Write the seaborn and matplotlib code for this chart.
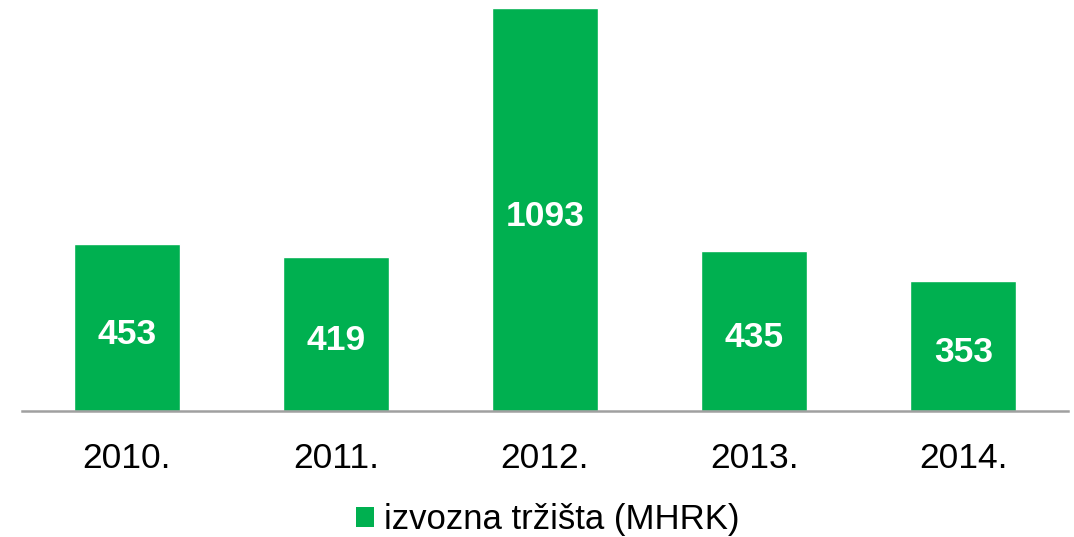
import matplotlib
matplotlib.use("Agg")
import matplotlib.pyplot as plt
from matplotlib.patches import Patch
import seaborn as sns
import pandas as pd

# data
years = ["2010.", "2011.", "2012.", "2013.", "2014."]
values = [453, 419, 1093, 435, 353]
series_name = "izvozna tržišta (MHRK)"

green = "#00B050"

sns.set_style("white")
plt.rcParams["font.family"] = ["Liberation Sans", "DejaVu Sans"]
plt.rcParams["text.color"] = "black"

df = pd.DataFrame({"year": years, "value": values})

fig = plt.figure(figsize=(10.74, 5.37), dpi=100)
ax = fig.add_axes([22 / 1074, 1 - 411 / 537, 1046 / 1074, 411 / 537])

sns.barplot(data=df, x="year", y="value", color=green, saturation=1,
            width=0.507, ax=ax)

ax.set_ylim(0, 1115)
ax.set_xlim(-0.5, len(years) - 0.5)

# value labels roughly in the middle of each bar
for i, v in enumerate(values):
    ax.annotate(str(v), (i, v / 2), xytext=(0, -5), textcoords="offset points",
                ha="center", va="center", color="white",
                fontsize=25.5, fontweight="bold")

for side in ["top", "right", "left"]:
    ax.spines[side].set_visible(False)
ax.spines["bottom"].set_color("#a0a0a0")
ax.spines["bottom"].set_linewidth(1.8)
ax.set_yticks([])
ax.set_xlabel("")
ax.set_ylabel("")
ax.tick_params(axis="x", length=0, labelsize=25.5, pad=22, colors="black")

handle = Patch(facecolor=green, edgecolor="none", label=series_name)
leg = fig.legend(handles=[handle], loc="center",
                 bbox_to_anchor=(548 / 1074, 1 - 520 / 537),
                 frameon=False, fontsize=25, handlelength=0.5, handleheight=0.5,
                 handletextpad=0.3, borderpad=0)
for t in leg.get_texts():
    t.set_color("black")

fig.savefig("out.png", dpi=100)
